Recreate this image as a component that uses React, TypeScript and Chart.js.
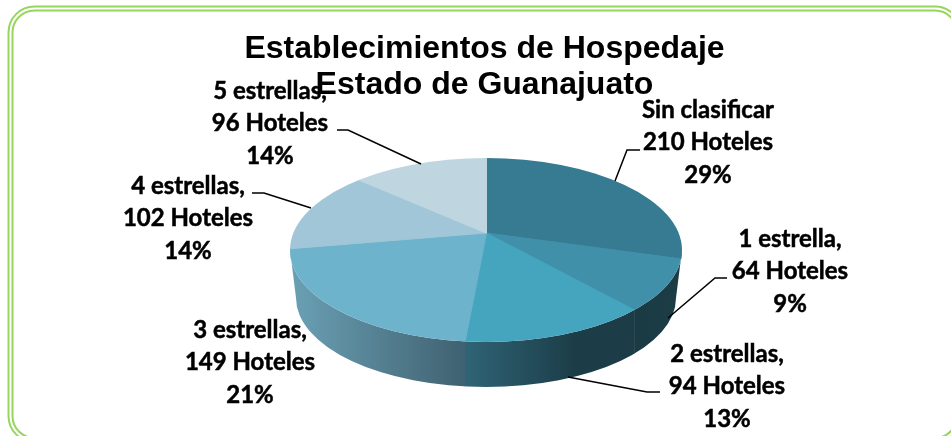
import React, { useEffect, useRef } from "react";
import { Chart, registerables } from "chart.js";

Chart.register(...registerables);

const titleLines = ["Establecimientos de Hospedaje", "Estado de Guanajuato"];
const categories = ["Sin clasificar", "1 estrella,", "2 estrellas,", "3 estrellas,", "4 estrellas,", "5 estrellas,"];
const hotels = [210, 64, 94, 149, 102, 96];
const percents = [29, 9, 13, 21, 14, 14];
const topColors = ["#367B91", "#4090AA", "#45A5BE", "#6EB3CC", "#A0C6D7", "#BFD6E1"];
const wallFrom = ["#1B3A44", "#1A3A44", "#2F6476", "#6BA1B5", "#6BA1B5", "#6BA1B5"];
const wallTo = ["#1B3A44", "#1C3C46", "#1C3D48", "#3F6171", "#6BA1B5", "#6BA1B5"];
const labelCenters = [[708, 110], [790, 239], [727, 354], [250, 330], [188, 186], [270, 91]];
const leaders = [
  [[640, 150], [627, 150], [615, 181]],
  [[727, 278], [715, 278], [668, 318]],
  [[660, 392], [647, 392], [568, 377]],
  [[], [], []],
  [[252, 193], [264, 193], [311, 208]],
  [[337, 130], [348, 130], [421, 164]],
];

// Pie projection
const APEX = { x: 486, y: 233 };
const TOP = { x: 486, y: 250, rx: 196, ry: 92 };
const BASE = { x: 486, y: 298, rx: 190, ry: 89 };
const SQUASH = TOP.ry / TOP.rx;
const OVERSIZE = 320;

function rimX(angle: number) {
  const dx = Math.cos(angle);
  const dy = Math.sin(angle) * SQUASH;
  const ox = (APEX.x - TOP.x) / TOP.rx;
  const oy = (APEX.y - TOP.y) / TOP.ry;
  const ux = dx / TOP.rx;
  const uy = dy / TOP.ry;
  const a = ux * ux + uy * uy;
  const b = 2 * (ox * ux + oy * uy);
  const c = ox * ox + oy * oy - 1;
  const t = (-b + Math.sqrt(b * b - 4 * a * c)) / (2 * a);
  return { x: APEX.x + dx * t, y: APEX.y + dy * t };
}

const pie3d = {
  id: "pie3d",
  beforeDraw(chart: any) {
    const ctx = chart.ctx;
    ctx.save();
    ctx.strokeStyle = "#96D65C";
    ctx.lineWidth = 2;
    [[8.5, 6.5, 961, 442, 26], [12.5, 10.5, 957, 438, 22]].forEach(([l, t, r, b, rad]) => {
      ctx.beginPath();
      ctx.roundRect(l, t, r - l, b - t, rad);
      ctx.stroke();
    });
    ctx.restore();
  },
  beforeDatasetDraw(chart: any) {
    const ctx = chart.ctx;
    const arcs = chart.getDatasetMeta(0).data;
    // side wall
    const wall = new Path2D();
    wall.ellipse(TOP.x, TOP.y, TOP.rx, TOP.ry, 0, 0, Math.PI);
    wall.ellipse(BASE.x, BASE.y, BASE.rx, BASE.ry, 0, Math.PI, 0, true);
    wall.closePath();
    ctx.save();
    ctx.clip(wall);
    arcs.forEach((arc: any, i: number) => {
      const s = rimX(arc.startAngle);
      const e = rimX(arc.endAngle);
      const left = TOP.x - TOP.rx;
      const right = TOP.x + TOP.rx;
      if (s.y < TOP.y && e.y < TOP.y) return;
      const x2 = s.y >= TOP.y ? s.x : right;
      const x1 = e.y >= TOP.y ? e.x : left;
      const g = ctx.createLinearGradient(x1, 0, x2, 0);
      g.addColorStop(0, wallFrom[i]);
      g.addColorStop(i === 2 ? 0.65 : 1, wallTo[i]);
      ctx.fillStyle = g;
      ctx.fillRect(x1, TOP.y - 10, x2 - x1 + 0.5, 160);
    });
    ctx.restore();
    // top face: library arcs, projected
    const arc0 = arcs[0];
    ctx.save();
    ctx.beginPath();
    ctx.ellipse(TOP.x, TOP.y, TOP.rx, TOP.ry, 0, 0, Math.PI * 2);
    ctx.clip();
    const k = OVERSIZE / arc0.outerRadius;
    ctx.translate(APEX.x, APEX.y);
    ctx.scale(k, k * SQUASH);
    ctx.translate(-arc0.x, -arc0.y);
  },
  afterDatasetDraw(chart: any) {
    chart.ctx.restore();
  },
  afterDatasetsDraw(chart: any) {
    const ctx = chart.ctx;
    ctx.save();
    ctx.strokeStyle = "#000";
    ctx.lineWidth = 1.5;
    leaders.forEach((pts) => {
      if (!pts[0].length) return;
      ctx.beginPath();
      pts.forEach((p, j) => (j ? ctx.lineTo(p[0], p[1]) : ctx.moveTo(p[0], p[1])));
      ctx.stroke();
    });
    ctx.fillStyle = "#000";
    ctx.lineWidth = 0.5;
    ctx.font = "bold 24px Lato";
    ctx.textAlign = "center";
    ctx.textBaseline = "middle";
    categories.forEach((c, i) => {
      const [x, y] = labelCenters[i];
      [c, `${hotels[i]} Hoteles`, `${percents[i]}%`].forEach((line, j) => {
        ctx.fillText(line, x, y + j * 32.5);
        ctx.strokeText(line, x, y + j * 32.5);
      });
    });
    ctx.restore();
  },
};

export default function App() {
  const ref = useRef<HTMLCanvasElement>(null);
  useEffect(() => {
    const chart = new Chart(ref.current!, {
      type: "pie",
      data: {
        labels: categories,
        datasets: [
          {
            data: hotels,
            backgroundColor: topColors,
            borderColor: topColors,
            borderWidth: 1,
            clip: false,
          } as any,
        ],
      },
      options: {
        responsive: false,
        animation: false,
        events: [],
        layout: { padding: { left: 18, top: 31, right: 0, bottom: 20 } },
        plugins: {
          legend: { display: false },
          tooltip: { enabled: false },
          title: {
            display: true,
            text: titleLines,
            color: "#000",
            font: { family: "Liberation Sans", size: 32, weight: "bold", lineHeight: 1.125 },
            padding: { top: 0, bottom: 0 },
          },
        },
      },
      plugins: [pie3d],
    } as any);
    return () => chart.destroy();
  }, []);
  return (
    <div style={{ position: "fixed", left: 0, top: 0, width: 951, height: 436, overflow: "hidden", background: "#fff" }}>
      <canvas ref={ref} width={951} height={436} style={{ display: "block" }} />
    </div>
  );
}
